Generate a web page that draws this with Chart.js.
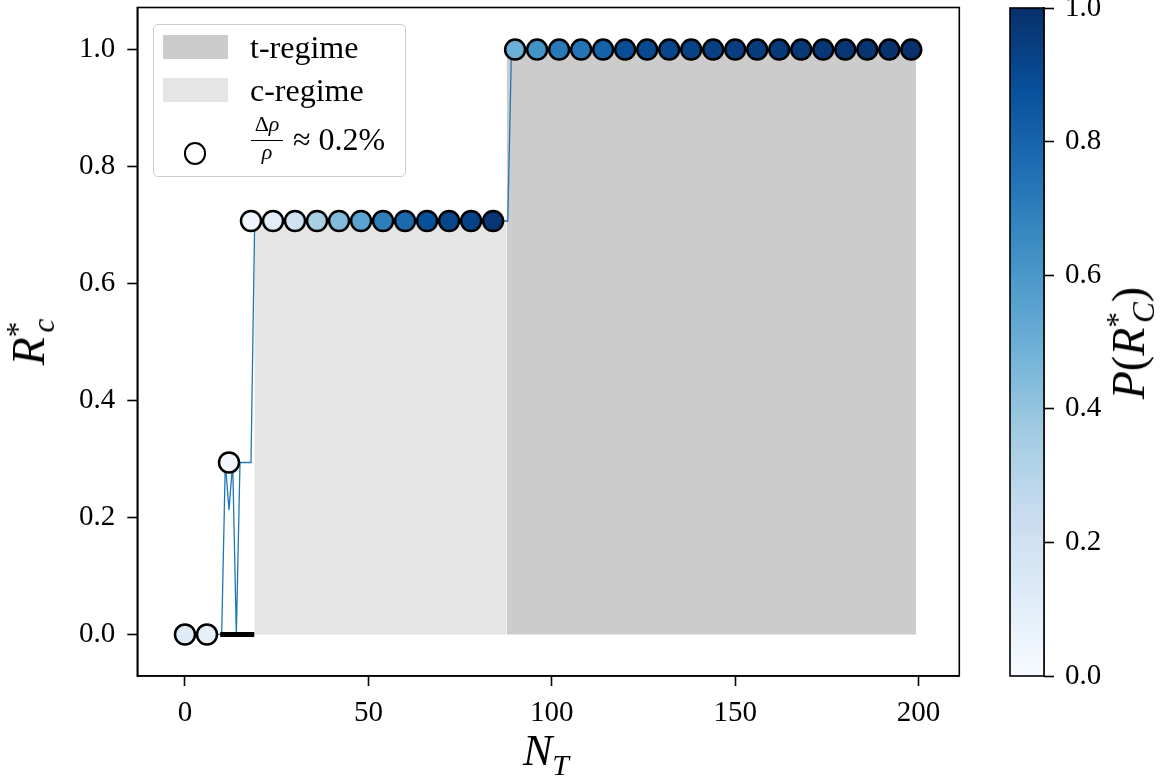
<!DOCTYPE html>
<html lang="en">

<head>
    <meta charset="UTF-8">
    <title>R_c vs N_T</title>
    <script src="https://cdn.jsdelivr.net/npm/chart.js"></script>
    <style>
        body {
            margin: 0;
            background: #ffffff;
        }

        #wrap {
            position: relative;
            width: 1167px;
            height: 776px;
            overflow: hidden;
            font-family: "Liberation Serif", "DejaVu Serif", serif;
            color: #000;
        }

        canvas {
            position: absolute;
        }

        .abs {
            position: absolute;
            white-space: nowrap;
        }

        #legend {
            position: absolute;
            left: 152.7px;
            top: 24px;
            width: 253px;
            height: 152.7px;
            box-sizing: border-box;
            border: 1.5px solid #cccccc;
            border-radius: 5px;
            background: rgba(255, 255, 255, 0.8);
        }

        .patch {
            position: absolute;
            left: 163.3px;
            width: 64.4px;
            height: 24.3px;
        }

        .legtext {
            position: absolute;
            left: 250px;
            font-size: 32px;
            line-height: 32px;
        }

        .rot {
            position: absolute;
            transform: translate(-50%, -50%) rotate(-90deg);
            font-size: 46px;
            line-height: 46px;
            white-space: nowrap;
        }

        sup, sub {
            font-size: 0.68em;
            line-height: 0;
        }
    </style>
</head>

<body>
    <div id="wrap">
        <!-- shifted up: chart.js keeps a small top gap of its own -->
        <canvas id="mainChart" width="1167" height="776" style="left:0; top:-5px"></canvas>
        <canvas id="cbarChart" width="207" height="790" style="left:960px; top:-10px"></canvas>

        <div id="legend"></div>
        <div class="patch" style="top:35px; background:#cccccc"></div>
        <div class="patch" style="top:77.7px; background:#e5e5e5"></div>
        <div class="abs" style="left:183.8px; top:142px; width:22.5px; height:22.5px; box-sizing:border-box; border:2.5px solid #000; border-radius:50%; background:#fff"></div>
        <div class="legtext" style="top:31px">t-regime</div>
        <div class="legtext" style="top:74px">c-regime</div>
        <div class="abs" style="left:250px; top:113px; width:34px; text-align:center; font-size:22px; line-height:22px">&Delta;<i>&rho;</i></div>
        <div class="abs" style="left:251px; top:139.5px; width:32px; border-top:1.6px solid #000"></div>
        <div class="abs" style="left:250px; top:141px; width:34px; text-align:center; font-size:22px; line-height:22px"><i>&rho;</i></div>
        <div class="legtext" style="left:293px; top:123px">&asymp; 0.2%</div>

        <div class="abs" style="left:446px; top:729px; width:200px; text-align:center; font-size:44px; line-height:44px"><i>N</i><sub><i>T</i></sub></div>
        <div class="rot" style="left:29.4px; top:342px"><i>R</i><sup>*</sup><sub style="margin-left:-0.35em"><i>c</i></sub></div>
        <div class="rot" style="left:1129.4px; top:343px"><i>P</i>(<i>R</i><sup>*</sup><sub style="margin-left:-0.35em"><i>C</i></sub>)</div>
    </div>

    <script>
        // axis ticks
        const xTickValues = [0, 50, 100, 150, 200];
        const yTickValues = [0, 0.2, 0.4, 0.6, 0.8, 1.0];
        const cbarTickValues = [0, 0.2, 0.4, 0.6, 0.8, 1.0];

        // thin blue curve (vertices)
        const curveX = [0, 10, 11, 12, 13, 14, 15, 18, 19, 88, 89, 199];
        const curveY = [0, 0, 0.294, 0.213, 0.294, 0, 0.294, 0.294, 0.707, 0.707, 1.0, 1.0];

        // thick black segment at zero
        const gapX = [9.6, 18.9];
        const gapY = [0, 0];

        // shaded regimes
        const cRegimeX = [18.9, 87.7];
        const cRegimeY = [0.707, 0.707];
        const tRegimeX = [87.7, 199.3];
        const tRegimeY = [1.0, 1.0];

        // circles, coloured by P(R*_C)
        const markerX = [0, 6, 12, 18, 24, 30, 36, 42, 48, 54, 60, 66, 72, 78, 84,
            90, 96, 102, 108, 114, 120, 126, 132, 138, 144, 150, 156, 162, 168, 174, 180, 186, 192, 198];
        const markerY = [0, 0, 0.294,
            0.707, 0.707, 0.707, 0.707, 0.707, 0.707, 0.707, 0.707, 0.707, 0.707, 0.707, 0.707,
            1, 1, 1, 1, 1, 1, 1, 1, 1, 1, 1, 1, 1, 1, 1, 1, 1, 1, 1];
        const markerP = [0.12, 0.08, 0.03,
            0.045, 0.1, 0.2, 0.34, 0.44, 0.55, 0.7, 0.78, 0.88, 0.92, 0.93, 0.98,
            0.5, 0.62, 0.72, 0.74, 0.81, 0.89, 0.9, 0.92, 0.93, 0.94, 0.95, 0.96, 0.965, 0.97, 0.975, 0.98, 0.985, 0.99, 0.995];

        // matplotlib "Blues"
        const bluesStops = ["#f7fbff", "#deebf7", "#c6dbef", "#9ecae1", "#6baed6", "#4292c6", "#2171b5", "#08519c", "#08306b"];

        function hexToRgb(h) {
            return [parseInt(h.slice(1, 3), 16), parseInt(h.slice(3, 5), 16), parseInt(h.slice(5, 7), 16)];
        }

        function blues(p) {
            const t = Math.min(Math.max(p, 0), 1) * (bluesStops.length - 1);
            const i = Math.min(Math.floor(t), bluesStops.length - 2);
            const f = t - i;
            const a = hexToRgb(bluesStops[i]);
            const b = hexToRgb(bluesStops[i + 1]);
            const c = a.map((v, k) => Math.round(v + (b[k] - v) * f));
            return `rgb(${c[0]},${c[1]},${c[2]})`;
        }

        const pts = (xs, ys) => xs.map((x, i) => ({ x: x, y: ys[i] }));
        const tickFont = { family: "'Liberation Serif', serif", size: 29 };

        const frame = {
            id: "frame",
            afterDraw(chart) {
                const { ctx, chartArea: a } = chart;
                ctx.save();
                ctx.strokeStyle = "#000";
                ctx.lineWidth = 1.6;
                ctx.strokeRect(a.left, a.top, a.right - a.left, a.bottom - a.top);
                ctx.restore();
            }
        };

        new Chart(document.getElementById("mainChart"), {
            type: "line",
            data: {
                datasets: [
                    {
                        data: pts(markerX, markerY),
                        showLine: false,
                        pointRadius: 10,
                        pointHoverRadius: 10,
                        pointBorderWidth: 2.5,
                        pointBorderColor: "#000",
                        pointBackgroundColor: markerP.map(blues),
                        order: 0
                    },
                    {
                        data: pts(gapX, gapY),
                        borderColor: "#000",
                        borderWidth: 5,
                        pointRadius: 0,
                        fill: false,
                        order: 1
                    },
                    {
                        data: pts(curveX, curveY),
                        borderColor: "#1f77b4",
                        borderWidth: 1.3,
                        pointRadius: 0,
                        tension: 0,
                        fill: false,
                        order: 2
                    },
                    {
                        data: pts(cRegimeX, cRegimeY),
                        borderWidth: 0,
                        borderColor: "rgba(0,0,0,0)",
                        backgroundColor: "#e5e5e5",
                        pointRadius: 0,
                        fill: "origin",
                        order: 3
                    },
                    {
                        data: pts(tRegimeX, tRegimeY),
                        borderWidth: 0,
                        borderColor: "rgba(0,0,0,0)",
                        backgroundColor: "#cccccc",
                        pointRadius: 0,
                        fill: "origin",
                        order: 3
                    }
                ]
            },
            options: {
                responsive: false,
                animation: false,
                layout: { padding: { left: 0, right: 1167 - 959.3, top: 0, bottom: 0 } },
                plugins: { legend: { display: false }, tooltip: { enabled: false } },
                scales: {
                    x: {
                        type: "linear",
                        min: -13,
                        max: 211.1,
                        afterBuildTicks: s => { s.ticks = xTickValues.map(v => ({ value: v })); },
                        afterFit: s => { s.height = 95; s.paddingLeft = 0; s.paddingRight = 0; },
                        grid: { drawOnChartArea: false, tickLength: 10, tickWidth: 1.6, tickColor: "#000" },
                        border: { color: "#000", width: 1.6 },
                        ticks: { font: tickFont, color: "#000", padding: 10, maxRotation: 0, autoSkip: false }
                    },
                    y: {
                        type: "linear",
                        min: -0.071,
                        max: 1.072,
                        afterBuildTicks: s => { s.ticks = yTickValues.map(v => ({ value: v })); },
                        afterFit: s => { s.width = 137.3; s.paddingTop = 0; s.paddingBottom = 0; },
                        grid: { drawOnChartArea: false, tickLength: 10, tickWidth: 1.6, tickColor: "#000" },
                        border: { color: "#000", width: 1.6 },
                        ticks: { font: tickFont, color: "#000", padding: 12, autoSkip: false, callback: v => v.toFixed(1) }
                    }
                }
            },
            plugins: [frame]
        });

        const gradientBar = {
            id: "gradientBar",
            beforeDatasetsDraw(chart) {
                const { ctx, chartArea: a } = chart;
                const g = ctx.createLinearGradient(0, a.bottom, 0, a.top);
                bluesStops.forEach((c, i) => g.addColorStop(i / (bluesStops.length - 1), c));
                ctx.save();
                ctx.fillStyle = g;
                ctx.fillRect(a.left, a.top, a.right - a.left, a.bottom - a.top);
                ctx.restore();
            }
        };

        new Chart(document.getElementById("cbarChart"), {
            type: "line",
            data: { datasets: [] },
            options: {
                responsive: false,
                animation: false,
                layout: { padding: { left: 50, right: 0, top: 18, bottom: 104 } },
                plugins: { legend: { display: false }, tooltip: { enabled: false } },
                scales: {
                    x: { type: "linear", display: false, min: 0, max: 1 },
                    y: {
                        type: "linear",
                        position: "right",
                        min: 0,
                        max: 1,
                        afterBuildTicks: s => { s.ticks = cbarTickValues.map(v => ({ value: v })); },
                        afterFit: s => { s.width = 123; s.paddingTop = 0; s.paddingBottom = 0; },
                        grid: { drawOnChartArea: false, tickLength: 10, tickWidth: 1.6, tickColor: "#000" },
                        border: { color: "#000", width: 1.6 },
                        ticks: { font: tickFont, color: "#000", padding: 11, autoSkip: false, callback: v => v.toFixed(1) }
                    }
                }
            },
            plugins: [gradientBar, frame]
        });
    </script>
</body>

</html>
